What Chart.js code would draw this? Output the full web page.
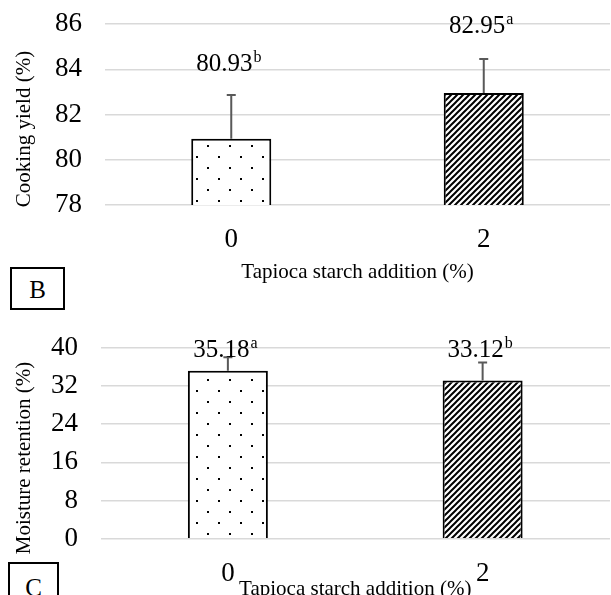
<!DOCTYPE html>
<html>
<head>
<meta charset="utf-8">
<script src="https://cdn.jsdelivr.net/npm/chart.js@4.4.1/dist/chart.umd.min.js"></script>
<style>
  html, body { margin: 0; padding: 0; background: #fff; }
  body { width: 611px; height: 595px; overflow: hidden; position: relative; font-family: "Liberation Serif", "Times New Roman", serif; }
  .pane { position: absolute; left: 0; width: 611px; }
  .ytitle { position: absolute; font-size: 21px; line-height: 1; white-space: nowrap; transform: translate(-50%, -50%) rotate(-90deg); }
  .box { position: absolute; box-sizing: border-box; border: 2px solid #000; font-size: 25px; text-align: center; background: #fff; }
</style>
</head>
<body>
<div class="pane" style="top:0;height:300px"><canvas id="chartB"></canvas></div>
<div class="pane" style="top:300px;height:320px"><canvas id="chartC"></canvas></div>
<div class="ytitle" style="left:23px;top:129px">Cooking yield (%)</div>
<div class="ytitle" style="left:23px;top:458px">Moisture retention (%)</div>
<div class="box" style="left:10px;top:267px;width:55px;height:43px;line-height:41px">B</div>
<div class="box" style="left:8px;top:562px;width:51px;height:52px;line-height:48px">C</div>
<script>
var categories = ["0", "2"];

var yieldValues = [80.93, 82.95];
var yieldErrors = [1.93, 1.50];
var yieldLetters = ["b", "a"];
var yieldTicks = [78, 80, 82, 84, 86];

var moistureValues = [35.18, 33.12];
var moistureErrors = [2.8, 3.8];
var moistureLetters = ["a", "b"];
var moistureTicks = [0, 8, 16, 24, 32, 40];

var serif = '"Liberation Serif", "Times New Roman", serif';

// fill patterns: dotted for 0 %, diagonal hatching for 2 %
function makeDots() {
    var c = document.createElement('canvas');
    c.width = 22; c.height = 22;
    var g = c.getContext('2d');
    g.fillStyle = '#fff';
    g.fillRect(0, 0, 22, 22);
    g.fillStyle = '#000';
    g.fillRect(9, 13, 2, 2);
    g.fillRect(20, 2, 2, 2);
    return g.createPattern(c, 'repeat');
}

function makeStripes() {
    var s = 6;
    var c = document.createElement('canvas');
    c.width = s; c.height = s;
    var g = c.getContext('2d');
    g.fillStyle = '#fff';
    g.fillRect(0, 0, s, s);
    g.strokeStyle = '#000';
    g.lineWidth = 2;
    g.beginPath();
    g.moveTo(0, s); g.lineTo(s, 0);
    g.moveTo(-1, 1); g.lineTo(1, -1);
    g.moveTo(s - 1, s + 1); g.lineTo(s + 1, s - 1);
    g.stroke();
    return g.createPattern(c, 'repeat');
}

var errorBars = {
    id: 'errorBars',
    afterDatasetsDraw: function(chart) {
        var ctx = chart.ctx;
        var yScale = chart.scales.y;
        var opts = chart.options.plugins.errorBars;
        chart.data.datasets.forEach(function(ds, i) {
            var meta = chart.getDatasetMeta(i);
            meta.data.forEach(function(bar, j) {
                var top = yScale.getPixelForValue(ds.data[j] + ds.errors[j]);
                ctx.save();
                ctx.strokeStyle = '#595959';
                ctx.lineWidth = 2;
                ctx.beginPath();
                ctx.moveTo(bar.x, bar.y);
                ctx.lineTo(bar.x, top);
                ctx.moveTo(bar.x - 4.5, top);
                ctx.lineTo(bar.x + 4.5, top);
                ctx.stroke();

                // value label with significance letter
                var text = ds.data[j].toFixed(2);
                ctx.font = '25px ' + serif;
                var mainW = ctx.measureText(text).width;
                ctx.font = '16px ' + serif;
                var supW = ctx.measureText(ds.letters[j]).width;
                var x0 = bar.x - opts.shift - (mainW + supW) / 2;
                var base = top - opts.gap[j] + 8.5;
                ctx.fillStyle = '#000';
                ctx.textAlign = 'left';
                ctx.textBaseline = 'alphabetic';
                ctx.font = '25px ' + serif;
                ctx.fillText(text, x0, base);
                ctx.font = '16px ' + serif;
                ctx.fillText(ds.letters[j], x0 + mainW + 1, base - 9);
                ctx.restore();
            });
        });
    }
};

function makeChart(id, values, errors, letters, ticks, cfg) {
    return new Chart(document.getElementById(id), {
        type: 'bar',
        data: {
            labels: categories,
            datasets: [{
                data: values,
                errors: errors,
                letters: letters,
                backgroundColor: [makeDots(), makeStripes()],
                borderColor: '#000',
                borderWidth: 2,
                categoryPercentage: 1,
                barPercentage: cfg.barPct
            }]
        },
        options: {
            responsive: true,
            maintainAspectRatio: false,
            animation: false,
            layout: { padding: { top: cfg.padTop, right: 1, bottom: 0, left: 0 } },
            plugins: {
                legend: { display: false },
                tooltip: { enabled: false },
                errorBars: { gap: cfg.labelGap, shift: 3 }
            },
            scales: {
                x: {
                    grid: { display: false },
                    border: { display: false },
                    ticks: { color: '#000', font: { family: serif, size: 27 }, padding: cfg.xTickPad },
                    title: {
                        display: true,
                        text: 'Tapioca starch addition (%)',
                        color: '#000',
                        font: { family: serif, size: 21 },
                        padding: { top: 0, bottom: cfg.xTitlePad }
                    },
                    afterFit: function(scale) { scale.height = cfg.xHeight; }
                },
                y: {
                    min: ticks[0],
                    max: ticks[ticks.length - 1],
                    afterBuildTicks: function(scale) {
                        scale.ticks = ticks.map(function(v) { return { value: v }; });
                    },
                    grid: { color: '#d9d9d9', lineWidth: 1.5, drawTicks: false },
                    border: { display: false },
                    ticks: { color: '#000', font: { family: serif, size: 27 }, padding: cfg.yTickPad },
                    afterFit: function(scale) {
                        scale.width = cfg.yWidth;
                        scale.paddingTop = 0;
                        scale.paddingBottom = 0;
                    }
                }
            }
        },
        plugins: [errorBars]
    });
}

makeChart('chartB', yieldValues, yieldErrors, yieldLetters, yieldTicks, {
    barPct: 0.317, padTop: 24, labelGap: [33, 35], xTickPad: 11, xTitlePad: 15.4,
    xHeight: 95, yWidth: 105, yTickPad: 23
});

makeChart('chartC', moistureValues, moistureErrors, moistureLetters, moistureTicks, {
    barPct: 0.314, padTop: 47.7, labelGap: [9, 14], xTickPad: 11, xTitlePad: 18.4,
    xHeight: 81.3, yWidth: 100.5, yTickPad: 22.5
});
</script>
</body>
</html>
